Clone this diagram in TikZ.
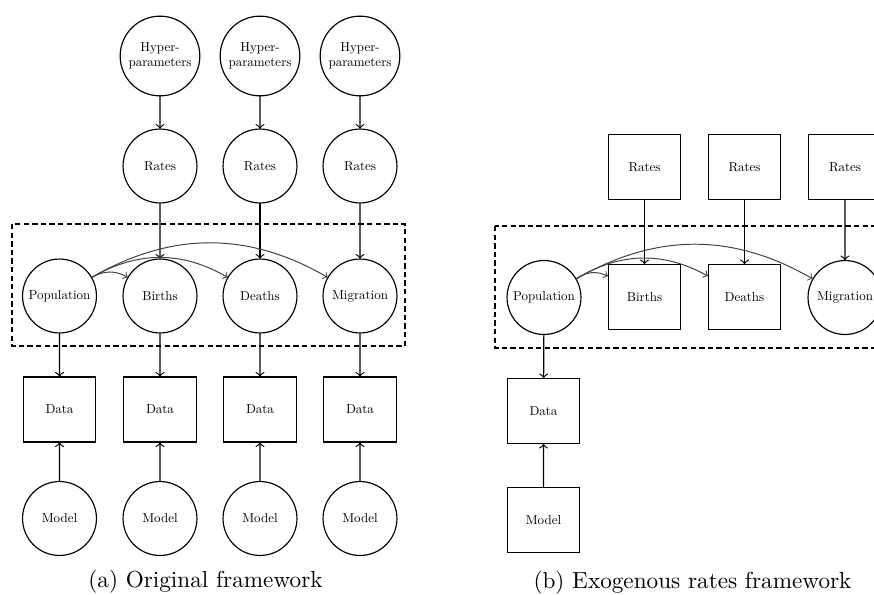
\documentclass[tikz,border=0pt]{standalone}
\begin{document}
\begin{tikzpicture}[x=0.431pt,y=-0.431pt,
  cnode/.style={draw, circle, minimum size=2cm, scale=0.56, line width=0.5pt, align=center},
  bnode/.style={draw, rectangle, minimum width=1.96cm, minimum height=1.76cm, scale=0.56, line width=0.5pt},
  arr/.style={->, line width=0.5pt},
  carr/.style={->, line width=0.42pt, black!75},
  grp/.style={draw, line width=0.45pt, dash pattern=on 2.3pt off 1.4pt},
  captext/.style={font=\normalsize, inner sep=0pt}]
\useasboundingbox (0,0) rectangle (874,594);
\clip (0,0) rectangle (874,594);

% ---------- panel (a) ----------
\node[cnode] (ha2) at (160,56) {Hyper-\\parameters};
\node[cnode] (ha3) at (260,56) {Hyper-\\parameters};
\node[cnode] (ha4) at (360,56) {Hyper-\\parameters};
\node[cnode] (ra2) at (160,166) {Rates};
\node[cnode] (ra3) at (260,166) {Rates};
\node[cnode] (ra4) at (360,166) {Rates};
\node[cnode] (pa) at (59.5,296) {Population};
\node[cnode] (ba) at (160,296) {Births};
\node[cnode] (da) at (260,296) {Deaths};
\node[cnode] (ma) at (360,296) {Migration};
\node[bnode] (xa1) at (59.5,409.5) {Data};
\node[bnode] (xa2) at (160,409.5) {Data};
\node[bnode] (xa3) at (260,409.5) {Data};
\node[bnode] (xa4) at (360,409.5) {Data};
\node[cnode] (ma1) at (59.5,518.5) {Model};
\node[cnode] (ma2) at (160,518.5) {Model};
\node[cnode] (ma3) at (260,518.5) {Model};
\node[cnode] (ma4) at (360,518.5) {Model};
\draw[grp] (12,224) rectangle (405,346);

\draw[arr] (ha2) -- (ra2);
\draw[arr] (ha3) -- (ra3);
\draw[arr] (ha4) -- (ra4);
\draw[arr] (ra2) -- (ba);
\draw[arr] (ra3) -- (da);
\draw[arr] (ra4) -- (ma);
\draw[arr] (pa) -- (xa1);
\draw[arr] (ba) -- (xa2);
\draw[arr] (da) -- (xa3);
\draw[arr] (ma) -- (xa4);
\draw[arr] (ma1) -- (xa1);
\draw[arr] (ma2) -- (xa2);
\draw[arr] (ma3) -- (xa3);
\draw[arr] (ma4) -- (xa4);
\draw[carr] (pa) to[bend left] (ba);
\draw[carr] (pa) to[bend left] (da);
\draw[carr] (pa) to[bend left] (ma);

\node[captext] (capa) at (205.5,582) {(a) Original framework};

% ---------- panel (b) ----------
\node[bnode] (rb2) at (644.5,167) {Rates};
\node[bnode] (rb3) at (744.5,167) {Rates};
\node[bnode] (rb4) at (845,167) {Rates};
\node[cnode] (pb) at (544,297.5) {Population};
\node[bnode] (bb) at (644.5,297) {Births};
\node[bnode] (db) at (744.5,297) {Deaths};
\node[cnode] (mb) at (845,297.5) {Migration};
\node[bnode] (xb) at (543.5,411) {Data};
\node[bnode] (mdb) at (543.5,520) {Model};
\draw[grp] (495,226) rectangle (890,348);

\draw[arr] (rb2) -- (bb);
\draw[arr] (rb3) -- (db);
\draw[arr] (rb4) -- (mb);
\draw[arr] (pb) -- (xb);
\draw[arr] (mdb) -- (xb);
\draw[carr] (pb) to[bend left] (bb);
\draw[carr] (pb) to[bend left] (db);
\draw[carr] (pb) to[bend left] (mb);

\node[captext] (capb) at (692.5,583) {(b) Exogenous rates framework};
\end{tikzpicture}
\end{document}
